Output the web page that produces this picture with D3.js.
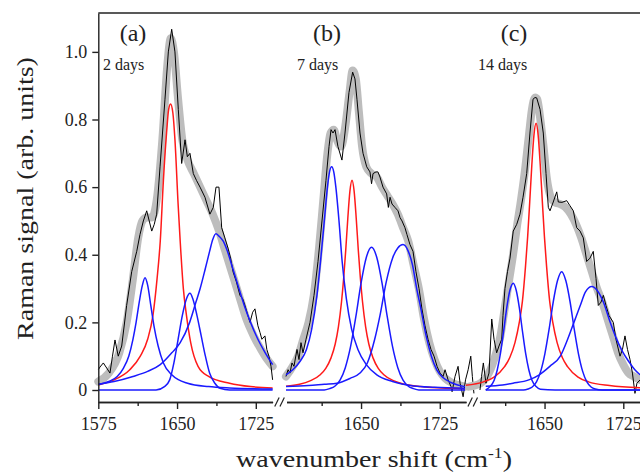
<!DOCTYPE html>
<html>
<head>
<meta charset="utf-8">
<script src="https://d3js.org/d3.v7.min.js"></script>
<style>
  body { margin: 0; background: #fff; }
  svg { display: block; font-family: "Liberation Serif", "Times New Roman", serif; }
</style>
</head>
<body>
<div id="chart"></div>
<script>

// Data  (x = wavenumber shift in cm-1, y = Raman signal in arb. units)

var panelLabels = ['(a)', '(b)', '(c)'];
var panelDays = ['2 days', '7 days', '14 days'];
var yTicks = [0, 0.2, 0.4, 0.6, 0.8, 1.0];
var xMajorTicks = [1575, 1650, 1725];
var xMinorTicks = [1612.5, 1687.5];

// (a) 2 days
var rawA = [[1575,.06],[1576.6,.068],[1579.8,.08],[1583,.065],[1586.1,.05],[1588.5,.1],[1590.9,.148],[1594,.1],[1597.3,.13],[1602,.25],[1606.8,.35],[1611.6,.41],[1614.7,.46],[1617.9,.5],[1621.1,.53],[1623.5,.5],[1625.9,.47],[1628.3,.49],[1630.6,.52],[1633.8,.66],[1638.5,.86],[1641.7,1.0],[1644.9,1.067],[1648,1.0],[1651.2,.83],[1654.4,.67],[1657.6,.74],[1659.8,.69],[1662.3,.7],[1665.5,.64],[1668.5,.62],[1671.9,.6],[1676.6,.57],[1681.3,.52],[1684.5,.54],[1687.1,.6],[1689.9,.6],[1692.5,.48],[1695.5,.45],[1698.5,.42],[1701,.39],[1703.3,.35],[1706.5,.32],[1709.9,.28],[1712.5,.27],[1714.7,.25],[1717.5,.22],[1719.5,.2],[1722,.23],[1724.2,.24],[1727,.19],[1729,.17],[1730.8,.15],[1733.7,.16],[1735.5,.12],[1737.5,.1],[1739.5,.07],[1741,.03]];
var fitA = [[1575,.025],[1585,.05],[1595,.11],[1602,.2],[1608,.33],[1613,.45],[1617,.5],[1621,.51],[1626,.51],[1631,.57],[1636,.74],[1641,.97],[1644,1.04],[1647,1.0],[1651,.86],[1655,.74],[1660,.68],[1666,.64],[1672,.6],[1678,.56],[1684,.52],[1690,.47],[1696,.41],[1702,.35],[1709,.28],[1716,.21],[1723,.16],[1730,.12],[1736,.09],[1741,.07]];
var redA = [[1575,.015],[1590,.03],[1605,.06],[1615,.1],[1622,.15],[1627,.22],[1631,.33],[1634,.44],[1637,.62],[1640,.76],[1642,.83],[1643.8,.846],[1646,.82],[1648,.74],[1651,.55],[1653,.44],[1656,.3],[1659,.22],[1663,.14],[1670,.07],[1680,.04],[1700,.02],[1720,.01],[1741,.006]];
var blueA1 = [[1575,.016],[1585,.025],[1593,.04],[1599,.065],[1604,.1],[1608,.15],[1611,.2],[1614,.26],[1617,.31],[1619.5,.332],[1622,.31],[1625,.25],[1628,.19],[1632,.13],[1637,.08],[1645,.045],[1660,.02],[1680,.01],[1700,.006],[1741,.003]];
var blueA2 = [[1575,0],[1630,0],[1638,.01],[1643,.03],[1647,.08],[1651,.15],[1655,.22],[1659,.27],[1662.3,.286],[1665,.27],[1669,.22],[1673,.16],[1677,.1],[1681,.05],[1686,.02],[1691,.005],[1700,0],[1741,0]];
var blueA3 = [[1575,.017],[1590,.025],[1608,.04],[1622,.055],[1634,.075],[1645,.11],[1653,.14],[1662,.2],[1668,.26],[1672,.3],[1677,.36],[1681,.41],[1684,.445],[1687,.462],[1690,.455],[1694,.44],[1698,.41],[1703,.36],[1708,.31],[1714,.25],[1720,.2],[1727,.15],[1734,.11],[1741,.075]];

// (b) 7 days
var rawB = [[1578.5,.04],[1580.5,.06],[1582.3,.05],[1584.2,.08],[1586.1,.07],[1589,.12],[1590.9,.09],[1592.8,.14],[1594.7,.11],[1597.6,.15],[1601.4,.2],[1605.2,.28],[1609,.38],[1612.8,.5],[1616.6,.62],[1619.5,.72],[1621.4,.77],[1623.3,.76],[1625.2,.77],[1628,.72],[1631.8,.68],[1634.7,.76],[1638.5,.88],[1642,.94],[1644.2,.92],[1646.1,.86],[1649,.76],[1651.9,.7],[1655.4,.66],[1658.5,.645],[1660,.61],[1661.4,.64],[1664.2,.645],[1666.1,.645],[1668,.63],[1670.9,.6],[1674.4,.58],[1676,.54],[1677.6,.57],[1679.5,.55],[1682.3,.54],[1685.2,.53],[1687.1,.51],[1689,.5],[1691.8,.48],[1693.7,.46],[1696.6,.43],[1699.5,.41],[1702.3,.35],[1705.2,.3],[1708,.24],[1710.9,.19],[1713.8,.15],[1716.6,.12],[1719.5,.1],[1722.4,.07],[1725.2,.05],[1728.1,.04],[1730,.06],[1732.9,.03],[1735.7,.01],[1736.7,-.005],[1739.5,.04],[1742.4,.07],[1744.3,.02],[1747.2,-.02],[1749.5,.03],[1752,.06],[1754.5,.1],[1756,.04],[1757.5,-.01]];
var fitB = [[1578.5,.04],[1585,.07],[1590,.1],[1595,.15],[1600,.2],[1605,.28],[1610,.42],[1614,.56],[1618,.7],[1621,.76],[1624,.77],[1627,.74],[1631,.72],[1635,.78],[1639,.88],[1642,.945],[1645,.92],[1648,.82],[1651,.72],[1655,.66],[1660,.64],[1665,.63],[1670,.6],[1675,.575],[1680,.55],[1685,.52],[1690,.48],[1695,.44],[1700,.37],[1705,.3],[1710,.21],[1715,.14],[1720,.09],[1725,.055],[1730,.035],[1736,.022],[1742,.015],[1749,.01]];
var redB = [[1578.5,.011],[1591.4,.017],[1601.4,.027],[1611.4,.046],[1616.4,.064],[1621.4,.095],[1625.4,.136],[1628.4,.186],[1631.4,.261],[1633.4,.329],[1635.4,.413],[1637.4,.508],[1639.4,.588],[1641.4,.62],[1643.4,.588],[1645.4,.508],[1647.4,.413],[1649.4,.329],[1651.4,.261],[1654.4,.186],[1657.4,.136],[1661.4,.095],[1666.4,.064],[1671.4,.046],[1681.4,.027],[1691.4,.017],[1706.4,.01],[1726.4,.006],[1749,.004]];
var blueB1 = [[1578.5,.045],[1585,.06],[1592,.085],[1598,.12],[1603,.18],[1608,.28],[1612,.4],[1615,.5],[1618,.6],[1620,.645],[1622,.66],[1624,.645],[1626,.6],[1629,.5],[1632,.38],[1636,.27],[1641,.18],[1647,.12],[1655,.075],[1665,.045],[1680,.025],[1700,.012],[1720,.008],[1749,.005]];
var blueB2 = [[1578.5,0],[1615,0],[1620,.004],[1625,.011],[1630,.029],[1635,.066],[1640,.128],[1645,.216],[1650,.316],[1655,.392],[1660,.422],[1665,.392],[1670,.316],[1675,.216],[1680,.128],[1685,.066],[1690,.029],[1695,.011],[1700,.004],[1705,0],[1749,0]];
var blueB3 = [[1578.5,.01],[1600,.013],[1615,.017],[1627,.02],[1640,.035],[1649,.05],[1656,.08],[1663,.15],[1668,.22],[1674,.32],[1680,.39],[1685,.42],[1690,.43],[1695,.41],[1699,.37],[1703,.3],[1707,.24],[1712,.16],[1717,.1],[1722,.06],[1728,.037],[1735,.023],[1742,.015],[1749,.01]];

// (c) 14 days
var rawC = [[1588.5,0],[1590,.04],[1591.7,.08],[1594.2,.02],[1597.1,.05],[1599.7,.21],[1601.9,.15],[1604.4,.11],[1606.6,.13],[1609.2,.15],[1610.4,.22],[1612.3,.3],[1614.7,.35],[1617.1,.39],[1620.2,.47],[1623.5,.49],[1626.6,.52],[1629.5,.57],[1633,.64],[1636.1,.76],[1639,.86],[1640.9,.865],[1642.5,.864],[1645.7,.83],[1648.8,.76],[1651.4,.64],[1653.6,.54],[1655.2,.53],[1658.3,.556],[1661.6,.586],[1663.1,.556],[1666.6,.555],[1671.1,.56],[1674.2,.545],[1677.4,.53],[1680.6,.48],[1683.8,.47],[1686.9,.45],[1690.1,.38],[1693.3,.39],[1696.4,.41],[1699,.33],[1701.2,.25],[1703.8,.26],[1706,.28],[1708.5,.25],[1711.4,.22],[1715.5,.2],[1718,.15],[1721.9,.1],[1724.2,.12],[1726.6,.16],[1729,.12],[1731.4,.09],[1733.7,.05],[1736.1,-.01],[1738,.02],[1741,.03]];
var fitC = [[1578,.01],[1589,.02],[1597,.05],[1603,.1],[1608,.16],[1612,.24],[1616,.32],[1620,.4],[1624,.49],[1627,.55],[1631,.64],[1635,.75],[1638,.83],[1641,.865],[1643,.86],[1646,.8],[1649,.72],[1652,.63],[1656,.57],[1660,.555],[1665,.55],[1670,.54],[1675,.52],[1680,.49],[1685,.45],[1690,.4],[1695,.35],[1700,.3],[1705,.26],[1710,.21],[1715,.16],[1720,.11],[1725,.075],[1730,.05],[1735,.04],[1741,.03]];
var redC = [[1575,.014],[1591.9,.024],[1601.9,.038],[1611.9,.069],[1616.9,.096],[1621.9,.141],[1625.9,.199],[1628.9,.262],[1631.9,.367],[1633.9,.453],[1635.9,.557],[1637.9,.666],[1639.9,.754],[1641.9,.789],[1643.9,.754],[1645.9,.666],[1647.9,.557],[1649.9,.453],[1651.9,.367],[1654.9,.262],[1657.9,.199],[1661.9,.141],[1666.9,.096],[1671.9,.069],[1681.9,.038],[1691.9,.024],[1711.9,.013],[1741,.007]];
var blueC1 = [[1594,0],[1598,.01],[1602,.029],[1605,.06],[1608,.108],[1611,.173],[1614,.243],[1617,.295],[1620.2,.316],[1623,.295],[1626,.243],[1629,.173],[1632,.108],[1635,.06],[1638,.029],[1642,.01],[1646,.002],[1660,0],[1741,0]];
var blueC2 = [[1594,0],[1630,0],[1634.3,.003],[1638.3,.009],[1642.3,.024],[1646.3,.055],[1650.3,.107],[1654.3,.179],[1658.3,.261],[1662.3,.323],[1666.3,.35],[1670.3,.323],[1674.3,.261],[1678.3,.179],[1682.3,.107],[1686.3,.055],[1690.3,.024],[1694.3,.009],[1698.3,.003],[1705,0],[1741,0]];
var blueC3 = [[1594,.011],[1610,.015],[1620,.02],[1635,.03],[1645,.045],[1655,.07],[1665,.1],[1672,.15],[1678,.2],[1684,.25],[1689,.29],[1695,.306],[1700,.295],[1706,.26],[1712,.205],[1718,.155],[1724,.115],[1730,.085],[1736,.06],[1741,.045]];

var panels = [
	{ raw: rawA, fit: fitA, red: redA, blues: [blueA1, blueA2, blueA3] },
	{ raw: rawB, fit: fitB, red: redB, blues: [blueB1, blueB2, blueB3] },
	{ raw: rawC, fit: fitC, red: redC, blues: [blueC1, blueC2, blueC3] }
];

// Dimensions

var width = 640;
var height = 475;
var plotTop = 13;
var plotBottom = 402;
var panelLeft = [98.3, 282.3, 465.8];
var panelWidth = 183.75;
var axisSpan = [[1575, 1741], [1579, 1750], [1588, 1750]];	// visible piece of the broken x axis
var ink = '#222';

var svg = d3.select('#chart').append('svg')
	.attr('width', width)
	.attr('height', height);

var y = d3.scaleLinear()
	.domain([-0.0355, 1.115])
	.range([plotBottom, plotTop]);

function styleAxis (sel) {
	sel.attr('font-family', '"Liberation Serif", "Times New Roman", serif')
		.attr('font-size', 18);
	sel.selectAll('.domain, .tick line')
		.attr('stroke', ink)
		.attr('stroke-width', 1.4);
	sel.selectAll('.tick text').attr('fill', ink);
}

var xScales = [];

// Panels

panels.forEach(function (p, i) {

	var xs = d3.scaleLinear()
		.domain([1575, 1750])
		.range([panelLeft[i], panelLeft[i] + panelWidth]);
	xScales.push(xs);

	var smooth = d3.line()
		.x(function (d) { return xs(d[0]); })
		.y(function (d) { return y(d[1]); })
		.curve(d3.curveMonotoneX);

	var jagged = d3.line()
		.x(function (d) { return xs(d[0]); })
		.y(function (d) { return y(d[1]); });

	var g = svg.append('g').attr('class', 'panel');

	g.append('path')
		.datum(p.fit)
		.attr('d', smooth)
		.attr('fill', 'none')
		.attr('stroke', '#bdbdbd')
		.attr('stroke-width', 8)
		.attr('stroke-linejoin', 'round')
		.attr('stroke-linecap', 'round');

	g.append('path')
		.datum(p.raw)
		.attr('d', jagged)
		.attr('fill', 'none')
		.attr('stroke', '#000')
		.attr('stroke-width', 1);

	g.append('path')
		.datum(p.red)
		.attr('d', smooth)
		.attr('fill', 'none')
		.attr('stroke', '#ff1a1a')
		.attr('stroke-width', 1.5);

	g.selectAll('.blue')
		.data(p.blues)
		.enter()
		.append('path')
		.attr('class', 'blue')
		.attr('d', smooth)
		.attr('fill', 'none')
		.attr('stroke', '#1a1aff')
		.attr('stroke-width', 1.5);

	// x axis piece

	var span = axisSpan[i];
	var xa = d3.scaleLinear()
		.domain(span)
		.range([xs(span[0]), xs(span[1])]);

	g.append('g')
		.attr('transform', 'translate(0,' + plotBottom + ')')
		.call(d3.axisBottom(xa)
			.tickValues(xMajorTicks.filter(function (t) { return t >= span[0] && t <= span[1]; }))
			.tickSize(7)
			.tickSizeOuter(0)
			.tickPadding(8)
			.tickFormat(d3.format('d')))
		.call(styleAxis);

	g.append('g')
		.attr('transform', 'translate(0,' + plotBottom + ')')
		.call(d3.axisBottom(xa)
			.tickValues(xMinorTicks)
			.tickSize(4)
			.tickSizeOuter(0)
			.tickFormat(''))
		.call(styleAxis);

	// labels

	var labelX = [133, 327, 514];
	var daysX = [103, 297, 478];

	g.append('text')
		.attr('x', labelX[i])
		.attr('y', 41)
		.attr('text-anchor', 'middle')
		.attr('font-size', 24)
		.attr('fill', ink)
		.text(panelLabels[i]);

	g.append('text')
		.attr('x', daysX[i])
		.attr('y', 70)
		.attr('font-size', 16)
		.attr('fill', ink)
		.text(panelDays[i]);
});

// Axis breaks "//"

for (var k = 0; k < 2; k++) {
	var cx = (xScales[k](axisSpan[k][1]) + xScales[k + 1](axisSpan[k + 1][0])) / 2;
	[-2.6, 2.6].forEach(function (dx) {
		svg.append('line')
			.attr('x1', cx + dx - 2.2)
			.attr('y1', plotBottom + 4.5)
			.attr('x2', cx + dx + 2.2)
			.attr('y2', plotBottom - 4.5)
			.attr('stroke', ink)
			.attr('stroke-width', 1.2);
	});
}

// y axis and top frame

svg.append('g')
	.attr('transform', 'translate(' + panelLeft[0] + ',0)')
	.call(d3.axisLeft(y)
		.tickValues(yTicks)
		.tickSize(6)
		.tickSizeOuter(0)
		.tickPadding(5)
		.tickFormat(function (d) { return d === 0 ? '0' : d3.format('.1f')(d); }))
	.call(styleAxis);

svg.append('line')
	.attr('x1', panelLeft[0])
	.attr('x2', width)
	.attr('y1', plotTop)
	.attr('y2', plotTop)
	.attr('stroke', ink)
	.attr('stroke-width', 1.6);

// Axis titles (stretched to the span they take in the original)

var yTitle = svg.append('text')
	.attr('text-anchor', 'middle')
	.attr('font-size', 24)
	.attr('fill', ink)
	.text('Raman signal (arb. units)');
var yw = yTitle.node().getComputedTextLength();
yTitle.attr('transform', 'translate(33,198.5) rotate(-90) scale(' + (283 / yw) + ',1)');

var xTitle = svg.append('text')
	.attr('text-anchor', 'middle')
	.attr('font-size', 24)
	.attr('fill', ink);
xTitle.append('tspan').text('wavenumber shift (cm');
xTitle.append('tspan').attr('font-size', 15).attr('dy', -9).text('-1');
xTitle.append('tspan').attr('dy', 9).text(')');
var xw = xTitle.node().getBBox().width;
xTitle.attr('transform', 'translate(374,466.7) scale(' + (276 / xw) + ',1)');

</script>
</body>
</html>
